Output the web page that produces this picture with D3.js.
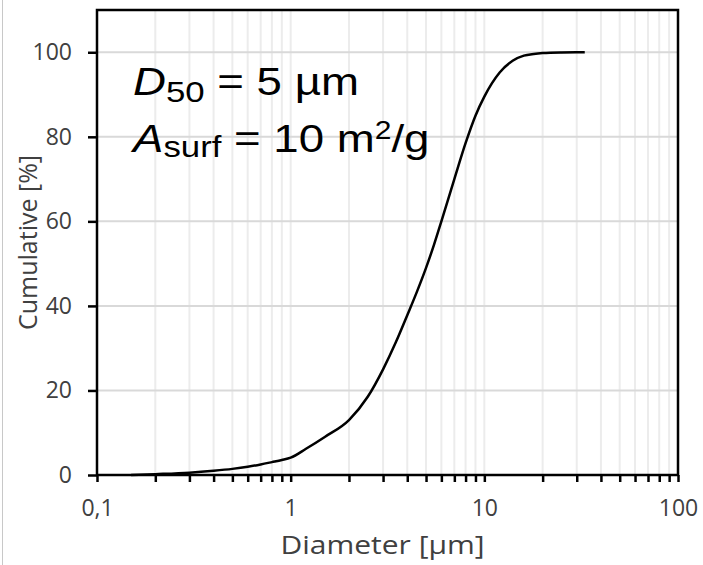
<!DOCTYPE html>
<html>
<head>
<meta charset="utf-8">
<script src="https://cdn.jsdelivr.net/npm/d3@7"></script>
<style>
  html, body { margin: 0; padding: 0; background: #fff; }
  svg { display: block; }
</style>
</head>
<body>
<svg id="chart" width="703" height="565"></svg>
<script>
// Particle size distribution: cumulative volume fraction vs. diameter
const diameters = [0.15, 0.2, 0.3, 0.4, 0.5, 0.6, 0.7, 0.8, 0.9, 1.0, 1.2, 1.5, 2.0, 2.5, 3.0, 3.5, 4.0, 4.5, 5.0, 5.5, 6.0, 7.0, 8.0, 9.0, 10, 12, 14, 16, 18, 20, 25, 33];
const cumulative = [0.0, 0.2, 0.55, 1.0, 1.45, 1.95, 2.5, 3.05, 3.55, 4.1, 6.2, 9.0, 13.0, 18.5, 25.0, 31.5, 37.8, 43.5, 49.0, 54.5, 60.0, 70.0, 78.5, 85.0, 89.5, 95.2, 98.0, 99.2, 99.6, 99.8, 99.95, 100];

const xTickLabels = ["0,1", "1", "10", "100"];
const yTickValues = [0, 20, 40, 60, 80, 100];
const xTitle = "Diameter [µm]";
const yTitle = "Cumulative [%]";

const W = 703, H = 565;
const margin = { left: 97, top: 10, right: 25, bottom: 90 };

const svg = d3.select("#chart");

const x = d3.scaleLog().domain([0.1, 100]).range([margin.left, W - margin.right]);
const y = d3.scaleLinear().domain([0, 110]).range([H - margin.bottom, margin.top]);

const labelColor = "#404040";
const tickFont = "'Open Sans', sans-serif";

// thin border line at the far left edge
svg.append("line")
  .attr("x1", 2.5).attr("x2", 2.5).attr("y1", 0).attr("y2", H)
  .attr("stroke", "#c8c8c8").attr("stroke-width", 1);

const logTicks = x.ticks();
const isMajor = d => Math.abs(Math.log10(d) - Math.round(Math.log10(d))) < 1e-9;

// gridlines
const grid = svg.append("g");
grid.selectAll("line.v")
  .data(logTicks.filter(d => d > 0.1 + 1e-9 && d < 100 - 1e-9))
  .join("line")
  .attr("class", "v")
  .attr("x1", d => x(d)).attr("x2", d => x(d))
  .attr("y1", y.range()[1]).attr("y2", y.range()[0])
  .attr("stroke", "#ececec").attr("stroke-width", 2);
grid.selectAll("line.h")
  .data(yTickValues.filter(d => d > 0))
  .join("line")
  .attr("class", "h")
  .attr("x1", x.range()[0]).attr("x2", x.range()[1])
  .attr("y1", d => y(d)).attr("y2", d => y(d))
  .attr("stroke", "#d9d9d9").attr("stroke-width", 2);

// x axis
const xAxis = d3.axisBottom(x)
  .tickValues(logTicks)
  .tickSize(7)
  .tickSizeOuter(0)
  .tickPadding(18)
  .tickFormat(d => isMajor(d) ? xTickLabels[Math.round(Math.log10(d)) + 1] : "");
const gx = svg.append("g")
  .attr("transform", `translate(0,${y(0)})`)
  .call(xAxis);
gx.select(".domain").remove();
gx.selectAll(".tick line").attr("stroke", "#000").attr("stroke-width", 2.5);
gx.selectAll(".tick text")
  .attr("fill", labelColor)
  .style("font-family", tickFont)
  .style("font-size", "23px");

// y axis
const yAxis = d3.axisLeft(y)
  .tickValues(yTickValues)
  .tickSize(9)
  .tickSizeOuter(0)
  .tickPadding(16)
  .tickFormat(d3.format("d"));
const gy = svg.append("g")
  .attr("transform", `translate(${x(0.1)},0)`)
  .call(yAxis);
gy.select(".domain").remove();
gy.selectAll(".tick line").attr("stroke", "#000").attr("stroke-width", 2.5);
gy.selectAll(".tick text")
  .attr("fill", labelColor)
  .style("font-family", tickFont)
  .style("font-size", "23px");

// plot frame
svg.append("rect")
  .attr("x", x.range()[0]).attr("y", y.range()[1])
  .attr("width", x.range()[1] - x.range()[0])
  .attr("height", y.range()[0] - y.range()[1])
  .attr("fill", "none").attr("stroke", "#000").attr("stroke-width", 2.5);

// distribution curve
const pts = diameters.map((d, i) => [d, cumulative[i]]);
svg.append("path")
  .datum(pts)
  .attr("fill", "none")
  .attr("stroke", "#000")
  .attr("stroke-width", 2.5)
  .attr("stroke-linejoin", "round")
  .attr("d", d3.line().x(d => x(d[0])).y(d => y(d[1])).curve(d3.curveMonotoneX));

// axis titles
const cx = (x.range()[0] + x.range()[1]) / 2;
svg.append("g")
  .attr("transform", `translate(${cx - 5},554) scale(1.2,1)`)
  .append("text")
  .attr("text-anchor", "middle")
  .attr("fill", labelColor)
  .style("font-family", tickFont)
  .style("font-size", "25px")
  .text(xTitle);

const cy = (y.range()[0] + y.range()[1]) / 2;
svg.append("text")
  .attr("transform", `translate(37,${cy}) rotate(-90)`)
  .attr("text-anchor", "middle")
  .attr("fill", labelColor)
  .style("font-family", tickFont)
  .style("font-size", "25px")
  .text(yTitle);

// annotation: median size and specific surface area
const note = svg.append("g")
  .attr("transform", "translate(133,0) scale(1.2,1)")
  .style("font-family", "'Liberation Sans', Arial, sans-serif")
  .attr("fill", "#000");

const l1 = note.append("text").attr("x", 0).attr("y", 95).style("font-size", "38px");
l1.append("tspan").style("font-style", "italic").text("D");
l1.append("tspan").attr("dy", 7.5).style("font-size", "29px").text("50");
l1.append("tspan").attr("dy", -7.5).text(" = 5 µm");

const l2 = note.append("text").attr("x", 0).attr("y", 152).style("font-size", "38px");
l2.append("tspan").style("font-style", "italic").text("A");
l2.append("tspan").attr("dy", 5.5).style("font-size", "29px").text("surf");
l2.append("tspan").attr("dy", -5.5).text(" = 10 m");
l2.append("tspan").attr("dy", -13).style("font-size", "25px").text("2");
l2.append("tspan").attr("dy", 13).text("/g");
</script>
</body>
</html>
